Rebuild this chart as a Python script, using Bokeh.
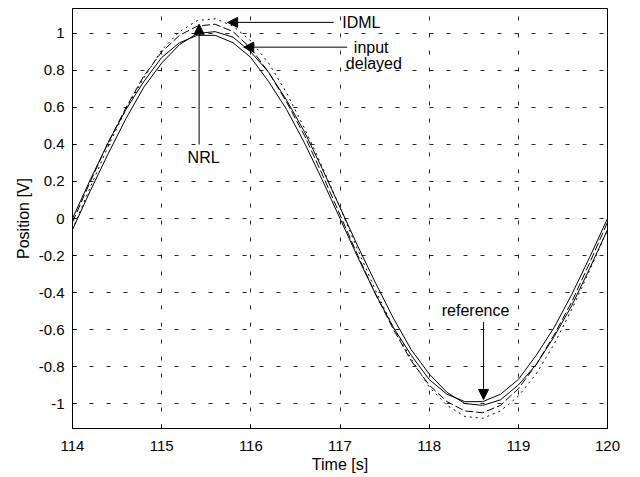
from bokeh.plotting import figure
from bokeh.models import Range1d, FixedTicker, Arrow, NormalHead, Label
from bokeh.embed import file_html
from bokeh.resources import INLINE

# ---- data ----
time_s = [114.0, 114.2, 114.4, 114.6, 114.8, 115.0, 115.2, 115.4, 115.6, 115.8,
          116.0, 116.2, 116.4, 116.6, 116.8, 117.0, 117.2, 117.4, 117.6, 117.8,
          118.0, 118.2, 118.4, 118.6, 118.8, 119.0, 119.2, 119.4, 119.6, 119.8, 120.0]

reference = [0.00, 0.21, 0.41, 0.59, 0.74, 0.87, 0.95, 0.99, 0.99, 0.95,
             0.87, 0.74, 0.59, 0.41, 0.21, 0.00, -0.21, -0.41, -0.59, -0.74,
             -0.87, -0.95, -0.99, -0.99, -0.95, -0.87, -0.74, -0.59, -0.41, -0.21, 0.00]

input_delayed = [-0.06, 0.15, 0.35, 0.54, 0.71, 0.84, 0.94, 1.00, 1.01, 0.98,
                 0.90, 0.79, 0.64, 0.47, 0.27, 0.06, -0.15, -0.35, -0.54, -0.71,
                 -0.84, -0.94, -1.00, -1.01, -0.98, -0.90, -0.79, -0.64, -0.47, -0.27, -0.06]

nrl = [-0.02, 0.20, 0.41, 0.60, 0.77, 0.90, 0.99, 1.04, 1.05, 1.01,
       0.92, 0.79, 0.63, 0.45, 0.24, 0.02, -0.20, -0.41, -0.60, -0.77,
       -0.90, -0.99, -1.04, -1.05, -1.01, -0.92, -0.79, -0.63, -0.45, -0.24, -0.02]

idml = [-0.06, 0.17, 0.39, 0.59, 0.76, 0.91, 1.01, 1.07, 1.08, 1.04,
        0.96, 0.84, 0.68, 0.49, 0.28, 0.06, -0.17, -0.39, -0.59, -0.76,
        -0.91, -1.01, -1.07, -1.08, -1.04, -0.96, -0.84, -0.68, -0.49, -0.28, -0.06]

xticks = [114, 115, 116, 117, 118, 119, 120]
xtick_labels = ["114", "115", "116", "117", "118", "119", "120"]
yticks = [-1.0, -0.8, -0.6, -0.4, -0.2, 0.0, 0.2, 0.4, 0.6, 0.8, 1.0]
ytick_labels = ["-1", "-0.8", "-0.6", "-0.4", "-0.2", "0", "0.2", "0.4", "0.6", "0.8", "1"]

x_label = "Time [s]"
y_label = "Position [V]"

FONT = "Liberation Sans"

p = figure(width=624, height=477, output_backend="svg", toolbar_location=None,
           x_range=Range1d(114, 120), y_range=Range1d(-1.135, 1.135),
           min_border_left=72, min_border_right=17, min_border_top=8, min_border_bottom=49)

p.background_fill_color = "white"
p.border_fill_color = "white"
p.outline_line_color = "black"
p.outline_line_width = 1
p.outline_line_alpha = 1

p.xaxis.ticker = FixedTicker(ticks=xticks)
p.yaxis.ticker = FixedTicker(ticks=yticks)
p.xaxis.major_label_overrides = {t: l for t, l in zip(xticks, xtick_labels)}
p.yaxis.major_label_overrides = {t: l for t, l in zip(yticks, ytick_labels)}

for ax in (p.xaxis[0], p.yaxis[0]):
    ax.axis_line_color = "black"
    ax.axis_line_width = 1
    ax.major_tick_in = 4
    ax.major_tick_out = 0
    ax.major_tick_line_color = "black"
    ax.minor_tick_line_color = None
    ax.major_label_text_font = FONT
    ax.major_label_text_font_size = "15px"
    ax.major_label_text_color = "black"
    ax.axis_label_text_font = FONT
    ax.axis_label_text_font_size = "16px"
    ax.axis_label_text_font_style = "normal"
    ax.axis_label_text_color = "black"

p.xaxis.axis_label = x_label
p.yaxis.axis_label = y_label
p.xaxis.major_label_standoff = 12
p.xaxis.axis_label_standoff = 2
p.yaxis.major_label_standoff = 8
p.yaxis.axis_label_standoff = 4

p.grid.grid_line_color = "black"
p.grid.grid_line_alpha = 0.85
p.grid.grid_line_width = 1
p.grid.grid_line_dash = "4 13"

# curves
p.line(time_s, idml, line_color="black", line_width=1, line_dash="2 4")
p.line(time_s, nrl, line_color="black", line_width=1, line_dash="8 3")
p.line(time_s, input_delayed, line_color="black", line_width=1)
p.line(time_s, reference, line_color="black", line_width=1)

# annotations
def arrow(x0, y0, x1, y1):
    p.add_layout(Arrow(end=NormalHead(size=10, fill_color="black", line_color="black"),
                       x_start=x0, y_start=y0, x_end=x1, y_end=y1,
                       line_color="black", line_width=1))

def label(x, y, txt):
    p.add_layout(Label(x=x, y=y, text=txt, text_align="center", text_baseline="middle",
                       text_font=FONT, text_font_size="16px", text_color="black"))

arrow(116.93, 1.06, 115.74, 1.06)
label(117.24, 1.06, "IDML")
arrow(117.08, 0.926, 115.92, 0.926)
label(117.35, 0.926, "input")
label(117.38, 0.84, "delayed")
arrow(115.42, 0.40, 115.42, 1.05)
label(115.47, 0.33, "NRL")
arrow(118.61, -0.56, 118.61, -0.978)
label(118.52, -0.497, "reference")

open("out.html", "w").write(file_html(p, INLINE))
